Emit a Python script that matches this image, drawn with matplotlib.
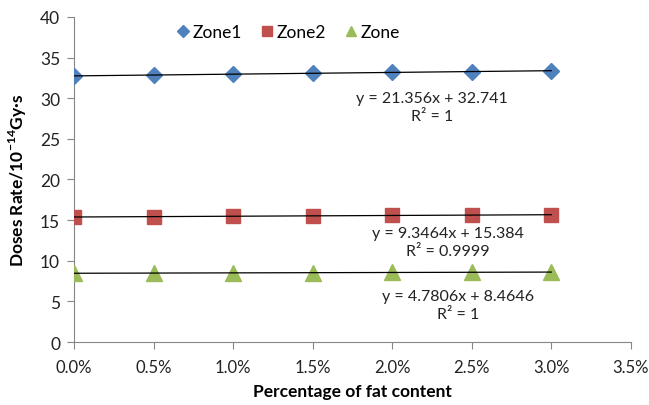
import numpy as np
import matplotlib
matplotlib.use("Agg")
import matplotlib.pyplot as plt

# fat content (fraction) and dose rates for each zone
fat = [0.0, 0.005, 0.010, 0.015, 0.020, 0.025, 0.030]
zone1 = [32.74, 32.85, 32.95, 33.06, 33.17, 33.27, 33.38]
zone2 = [15.38, 15.43, 15.48, 15.53, 15.57, 15.62, 15.66]
zone3 = [8.46, 8.49, 8.51, 8.54, 8.56, 8.58, 8.61]
names = ["Zone1", "Zone2", "Zone"]
eq_texts = ["y = 21.356x + 32.741\nR² = 1",
            "y = 9.3464x + 15.384\nR² = 0.9999",
            "y = 4.7806x + 8.4646\nR² = 1"]

plt.rcParams['font.family'] = ['Lato', 'DejaVu Sans']
plt.rcParams['mathtext.fontset'] = 'custom'
plt.rcParams['mathtext.rm'] = 'Lato'
plt.rcParams['mathtext.bf'] = 'Lato:bold'

fig = plt.figure(figsize=(6.49, 4.06), dpi=100)
ax = fig.add_axes([0.114, 0.155, 0.858, 0.801])

colors = ["#4F81BD", "#C0504D", "#9BBB59"]
markers = ["D", "s", "^"]
sizes = [8.5, 10, 11]
# trendline label centres in axes coords
eq_pos = [(0.643, 0.723), (0.671, 0.308), (0.689, 0.114)]

for ys, name, c, m, ms, txt, pos in zip([zone1, zone2, zone3], names, colors,
                                        markers, sizes, eq_texts, eq_pos):
    ax.plot(fat, ys, linestyle="none", marker=m, markersize=ms, color=c,
            label=name, zorder=3)
    k, b = np.polyfit(fat, ys, 1)
    xx = np.array([fat[0], fat[-1]])
    ax.plot(xx, k * xx + b, color="black", linewidth=0.9, zorder=4)
    ax.text(pos[0], pos[1], txt, transform=ax.transAxes, ha="center",
            va="center", fontsize=11.5, color="#222222", linespacing=1.3)

ax.set_xlim(0, 0.035)
ax.set_ylim(0, 40)
ax.set_xticks(np.arange(0, 0.0351, 0.005))
ax.set_xticklabels([f"{v*100:.1f}%" for v in np.arange(0, 0.0351, 0.005)])
ax.set_yticks(range(0, 41, 5))

for s in ["top", "right"]:
    ax.spines[s].set_visible(False)
for s in ["left", "bottom"]:
    ax.spines[s].set_color("#868686")
ax.tick_params(axis="both", direction="out", length=5, color="#868686",
               labelsize=12, labelcolor="#222222", pad=5)
ax.tick_params(axis="y", labelsize=12.5)
ax.tick_params(axis="x", pad=7)

ax.set_xlabel("Percentage of fat content", fontsize=12.5, fontweight="bold",
              labelpad=6)
ax.set_ylabel(r"Doses Rate/10$^{\mathbf{-14}}$Gy·s", fontsize=12.5,
              fontweight="bold", labelpad=8)

ax.legend(loc="center", bbox_to_anchor=(0.385, 0.954), ncol=3,
          frameon=False, fontsize=12.5, markerscale=0.7, handlelength=0.7,
          handletextpad=0.2, columnspacing=1.1)

fig.savefig("out.png", dpi=100)
